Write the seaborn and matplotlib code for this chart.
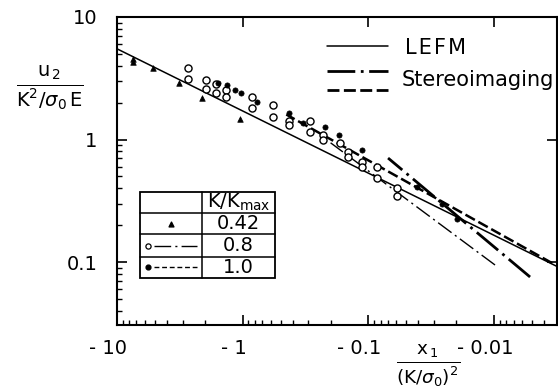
import numpy as np
import pandas as pd
import seaborn as sns
import matplotlib
matplotlib.use("Agg")
import matplotlib.pyplot as plt
from matplotlib.ticker import FixedLocator, LogLocator, NullFormatter
from matplotlib.patches import Rectangle
from matplotlib.transforms import ScaledTranslation

# --- data (|x1| / (K/sigma0)^2, u2 / (K^2/sigma0 E)) ---
tri_x = [7.5, 7.4, 5.2, 3.2, 2.1, 1.05]
tri_y = [4.5, 4.3, 3.85, 2.9, 2.2, 1.47]

circ_x = [2.72, 2.72, 1.96, 1.96, 1.63, 1.63, 1.36, 1.36, 0.84, 0.84, 0.574, 0.574,
          0.43, 0.43, 0.29, 0.29, 0.23, 0.23, 0.168, 0.145, 0.145, 0.112, 0.112,
          0.0855, 0.0855, 0.059, 0.059]
circ_y = [3.84, 3.12, 3.06, 2.58, 2.84, 2.40, 2.54, 2.22, 2.22, 1.81, 1.91, 1.53,
          1.42, 1.31, 1.42, 1.15, 1.09, 0.99, 0.935, 0.79, 0.72, 0.655, 0.597,
          0.597, 0.485, 0.40, 0.345]

dot_x = [1.57, 1.33, 1.15, 1.03, 0.77, 0.43, 0.33, 0.22, 0.171, 0.112, 0.041, 0.026, 0.0197]
dot_y = [2.89, 2.79, 2.54, 2.40, 2.02, 1.64, 1.36, 1.26, 1.09, 0.82, 0.41, 0.30, 0.224]

lefm_x = [10, 0.00316]
lefm_y = [5.5, 0.092]
fit08_x = [0.2, 0.00984]       # thin dash-dot through K/Kmax = 0.8
fit08_y = [0.94, 0.0946]
fit10_x = [0.45, 0.00346]      # dashed through K/Kmax = 1.0
fit10_y = [1.6, 0.098]
stereo_x = [0.0698, 0.00518]   # heavy dash-dot
stereo_y = [0.706, 0.0755]

xticks = [10, 1, 0.1, 0.01]
xtick_labels = ["- 10", "- 1", "- 0.1", "- 0.01"]
yticks = [10, 1, 0.1]
ytick_labels = ["10", "1", "0.1"]
table_vals = ["0.42", "0.8", "1.0"]

sns.set_style("ticks")
plt.rcParams["font.family"] = ["DejaVu Sans"]
plt.rcParams["mathtext.fontset"] = "dejavusans"
plt.rcParams["text.color"] = "black"
plt.rcParams["xtick.labelcolor"] = "black"
plt.rcParams["ytick.labelcolor"] = "black"

fig = plt.figure(figsize=(5.58, 3.91), dpi=100)
ax = fig.add_axes([117 / 558, 1 - 325 / 391, 440 / 558, 308 / 391])

# --- lines ---
sns.lineplot(x=lefm_x, y=lefm_y, ax=ax, color="black", lw=1.1, legend=False)
sns.lineplot(x=fit08_x, y=fit08_y, ax=ax, color="black", lw=1.0,
             linestyle=(0, (12, 3, 1.5, 3)), legend=False)
sns.lineplot(x=fit10_x, y=fit10_y, ax=ax, color="black", lw=1.8,
             linestyle=(0, (4.3, 1.6)), legend=False)
sns.lineplot(x=stereo_x, y=stereo_y, ax=ax, color="black", lw=2.0,
             linestyle=(0, (10, 2, 1, 2)), legend=False)

# --- points ---
sns.scatterplot(x=tri_x, y=tri_y, ax=ax, marker="^", s=16, color="black",
                edgecolor="black", linewidth=0.5, zorder=3)
sns.scatterplot(x=circ_x, y=circ_y, ax=ax, marker="o", s=26, color="white",
                edgecolor="black", linewidth=1.0, zorder=3)
sns.scatterplot(x=dot_x, y=dot_y, ax=ax, marker="o", s=14, color="black",
                edgecolor="black", linewidth=0.5, zorder=4)

# --- axes ---
ax.set_xscale("log")
ax.set_yscale("log")
ax.set_xlim(10, 10 ** -2.5)
ax.set_ylim(10 ** -1.514, 10)
ax.xaxis.set_major_locator(FixedLocator(xticks))
ax.set_xticklabels(xtick_labels, fontsize=14)
ax.yaxis.set_major_locator(FixedLocator(yticks))
ax.set_yticklabels(ytick_labels, fontsize=14)
ax.xaxis.set_minor_locator(LogLocator(base=10, subs=range(2, 10)))
ax.yaxis.set_minor_locator(LogLocator(base=10, subs=range(2, 10)))
ax.xaxis.set_minor_formatter(NullFormatter())
ax.yaxis.set_minor_formatter(NullFormatter())
ax.set_xlabel("")
ax.set_ylabel("")
for sp in ax.spines.values():
    sp.set_linewidth(1.5)
    sp.set_color("black")
ax.tick_params(which="both", direction="in", colors="black")
ax.tick_params(which="major", length=7, width=1.2, top=True, right=True)
ax.tick_params(which="minor", length=3.5, width=1.0, top=False, right=False)
ax.tick_params(axis="y", which="major", pad=14)
ax.tick_params(axis="x", which="major", pad=10)
off = ScaledTranslation(-9 / 100, 0, fig.dpi_scale_trans)
for lab in ax.get_xticklabels():
    lab.set_transform(lab.get_transform() + off)

# --- axis labels ---
fig.text(0.09, 0.775, r"$\frac{\mathrm{u}_{\,2}}{\mathrm{K}^2/\sigma_0\,\mathrm{E}}$",
         fontsize=20, ha="center", va="center")
fig.text(0.768, 0.064, r"$\frac{\mathrm{x}_{\,1}}{(\mathrm{K}/\sigma_0)^2}$",
         fontsize=19, ha="center", va="center")

# --- legend (top right) ---
T = ax.transAxes
ax.plot([0.477, 0.616], [0.906, 0.906], transform=T, color="black", lw=1.1)
ax.plot([0.477, 0.616], [0.825, 0.825], transform=T, color="black", lw=2.0,
        linestyle=(0, (10, 2, 1, 2)))
ax.plot([0.477, 0.616], [0.763, 0.763], transform=T, color="black", lw=2.0,
        linestyle=(0, (4.3, 1.6)))
ax.text(0.655, 0.898, "L\u200aE\u200aF\u200aM", transform=T, fontsize=15,
        va="center", ha="left")
ax.text(0.648, 0.797, "Stereoimaging", transform=T, fontsize=15, va="center", ha="left")

# --- K/Kmax table ---
tx = [0.0523, 0.193, 0.359]
ty = [0.432, 0.364, 0.295, 0.221, 0.153]
ax.add_patch(Rectangle((tx[0], ty[-1]), tx[2] - tx[0], ty[0] - ty[-1], transform=T,
                       facecolor="white", edgecolor="black", lw=1.3, zorder=5))
ax.plot([tx[1], tx[1]], [ty[0], ty[-1]], transform=T, color="black", lw=1.1, zorder=6)
for yy in ty[1:-1]:
    ax.plot([tx[0], tx[2]], [yy, yy], transform=T, color="black", lw=1.1, zorder=6)
xc = (tx[1] + tx[2]) / 2
ax.text(xc, (ty[0] + ty[1]) / 2, r"K/K$_{\mathrm{max}}$", transform=T, fontsize=14,
        ha="center", va="center", zorder=7)
for i, v in enumerate(table_vals):
    ax.text(xc, (ty[i + 1] + ty[i + 2]) / 2, v, transform=T, fontsize=14,
            ha="center", va="center", zorder=7)
r1 = (ty[1] + ty[2]) / 2
r2 = (ty[2] + ty[3]) / 2
r3 = (ty[3] + ty[4]) / 2
ax.scatter([0.123], [r1], transform=T, marker="^", s=12, color="black", zorder=7)
ax.scatter([0.070], [r2], transform=T, marker="o", s=14, facecolor="white",
           edgecolor="black", lw=0.9, zorder=7)
ax.plot([0.084, 0.182], [r2, r2], transform=T, color="black", lw=1.0,
        linestyle=(0, (12, 3, 1.5, 3)), zorder=7)
ax.scatter([0.070], [r3], transform=T, marker="o", s=12, color="black", zorder=7)
ax.plot([0.084, 0.182], [r3, r3], transform=T, color="black", lw=1.0,
        linestyle=(0, (3.5, 2)), zorder=7)

fig.savefig("out.png", dpi=100)
